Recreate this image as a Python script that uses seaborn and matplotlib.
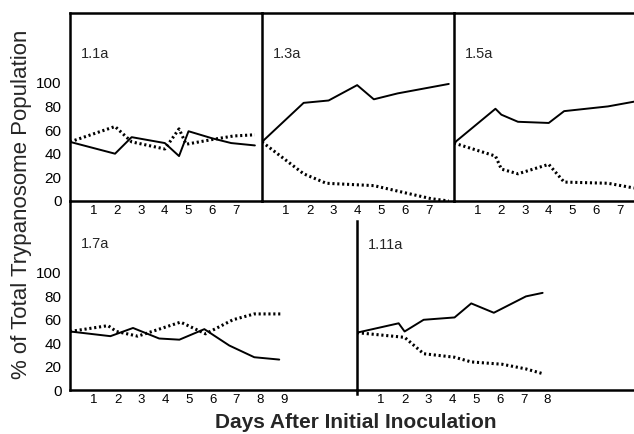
import seaborn as sns
import matplotlib.pyplot as plt
import pandas as pd

# 1.1a
days_11a_solid = [0, 1.9, 2.6, 4.0, 4.6, 5.0, 6.0, 6.8, 7.8]
pct_11a_solid = [50, 40, 54, 49, 38, 59, 53, 49, 47]
days_11a_dot = [0, 1.9, 2.6, 4.0, 4.6, 4.9, 6.0, 6.9, 7.8]
pct_11a_dot = [50, 63, 50, 44, 61, 48, 52, 55, 56]

# 1.3a
days_13a_solid = [0, 1.75, 2.8, 4.0, 4.7, 5.7, 7.85]
pct_13a_solid = [50, 83, 85, 98, 86, 91, 99]
days_13a_dot = [0, 1.75, 2.7, 4.7, 6.0, 7.1, 7.85]
pct_13a_dot = [50, 23, 15, 13, 7, 2, 0]

# 1.5a
days_15a = [0, 1.75, 2.0, 2.7, 4.0, 4.65, 6.5, 7.6]
pct_15a_solid = [49, 78, 73, 67, 66, 76, 80, 84]
pct_15a_dot = [49, 38, 27, 23, 31, 16, 15, 11]

# 1.7a
days_17a_solid = [0, 1.7, 2.65, 3.75, 4.6, 5.65, 6.7, 7.75, 8.8]
pct_17a_solid = [50, 46, 53, 44, 43, 52, 38, 28, 26]
days_17a_dot = [0, 1.6, 1.95, 2.85, 4.65, 5.7, 6.85, 7.75, 8.95]
pct_17a_dot = [50, 55, 50, 46, 58, 48, 60, 65, 65]

# 1.11a
days_111a_solid = [0, 1.75, 2.0, 2.8, 4.1, 4.8, 5.75, 7.1, 7.8]
pct_111a_solid = [49, 57, 50, 60, 62, 74, 66, 80, 83]
days_111a_dot = [0, 2.0, 2.8, 4.1, 4.8, 6.1, 7.1, 7.8]
pct_111a_dot = [49, 45, 31, 28, 24, 22, 18, 14]

y_ticks = [0, 20, 40, 60, 80, 100]
y_ticklabels = ["0", "20", "40", "60", "80", "100"]

sns.set_theme(style="white")
plt.rcParams['font.family'] = ['Liberation Sans', 'DejaVu Sans']

W, H = 634, 434
fig = plt.figure(figsize=(6.34, 4.34), dpi=100)


def add_panel(x0, x1, ytop, ybot):
    return fig.add_axes([x0 / W, 1 - ybot / H, (x1 - x0) / W, (ybot - ytop) / H])


def draw(ax, ds, ps, dd, pd_, label, xmax, ymax, nticks, label_y):
    sol = pd.DataFrame({"day": ds, "pct": ps})
    dot = pd.DataFrame({"day": dd, "pct": pd_})
    sns.lineplot(data=sol, x="day", y="pct", ax=ax, color="black", lw=1.4,
                 estimator=None, sort=False)
    sns.lineplot(data=dot, x="day", y="pct", ax=ax, color="black", lw=2.2,
                 linestyle=(0, (0.7, 0.9)), estimator=None, sort=False)
    ax.set_xlim(0, xmax)
    ax.set_ylim(0, ymax)
    ax.set_xticks(range(1, nticks + 1))
    ax.tick_params(axis="x", direction="in", length=4, width=1, pad=3,
                   labelsize=9.5, colors="black")
    ax.set_xlabel("")
    ax.set_ylabel("")
    ax.set_facecolor("none")
    for s in ax.spines.values():
        s.set_color("black")
        s.set_linewidth(1.8)
    ax.spines["right"].set_visible(False)
    ax.text(0.45, label_y, label, fontsize=10.5, va="center", ha="left")


ax1 = add_panel(70, 262, 13, 201)
ax2 = add_panel(262, 454, 13, 201)
ax3 = add_panel(454, 634, 13, 201)
ax4 = add_panel(70, 357, 201, 390)
ax5 = add_panel(357, 634, 201, 390)

draw(ax1, days_11a_solid, pct_11a_solid, days_11a_dot, pct_11a_dot, "1.1a", 8.1, 159, 7, 124)
draw(ax2, days_13a_solid, pct_13a_solid, days_13a_dot, pct_13a_dot, "1.3a", 8.07, 159, 7, 124)
draw(ax3, days_15a, pct_15a_solid, days_15a, pct_15a_dot, "1.5a", 7.6, 159, 7, 124)
draw(ax4, days_17a_solid, pct_17a_solid, days_17a_dot, pct_17a_dot, "1.7a", 12.07, 161.5, 9, 125)
draw(ax5, days_111a_solid, pct_111a_solid, days_111a_dot, pct_111a_dot, "1.11a", 11.64, 161.5, 8, 124)

for ax in (ax1, ax4):
    ax.set_yticks(y_ticks)
    ax.set_yticklabels(y_ticklabels)
    ax.tick_params(axis="y", direction="in", length=4, width=1, pad=6,
                   labelsize=11, colors="black")
for ax in (ax2, ax3, ax5):
    ax.set_yticks([])
for ax in (ax4, ax5):
    ax.spines["top"].set_visible(False)
ax5.spines["left"].set_bounds(-3, 144)

fig.text(22 / W, 1 - 204 / H, "% of Total Trypanosome Population", rotation=90,
         ha="center", va="center", fontsize=16)
fig.text(356 / W, 1 - 422 / H, "Days After Initial Inoculation",
         ha="center", va="center", fontsize=15, fontweight="bold")

plt.savefig("out.png", dpi=100)
